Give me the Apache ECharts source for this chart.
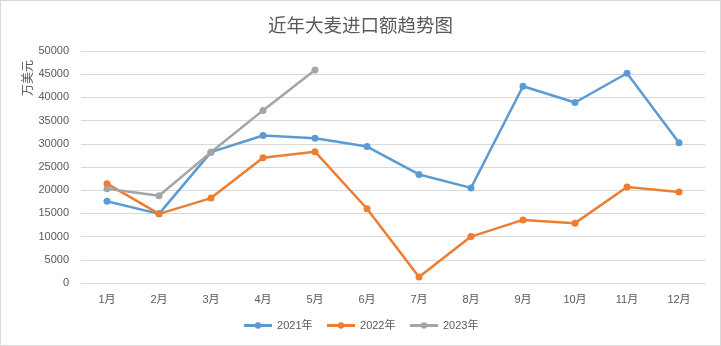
<!DOCTYPE html>
<html>
<head>
<meta charset="utf-8">
<script src="https://cdn.jsdelivr.net/npm/echarts@6/dist/echarts.min.js"></script>
<style>
  html, body { margin: 0; padding: 0; background: #fff; }
  #chart { width: 719px; height: 344px; border: 1px solid #D9D9D9; }
</style>
</head>
<body>
<div id="chart"></div>
<script>
// Monthly barley import value, unit: 10k USD
const months = ['1月', '2月', '3月', '4月', '5月', '6月', '7月', '8月', '9月', '10月', '11月', '12月'];
const values2021 = [17600, 14900, 28200, 31800, 31200, 29400, 23400, 20500, 42400, 38900, 45200, 30200];
const values2022 = [21400, 14900, 18300, 27000, 28300, 16000, 1300, 10000, 13600, 12900, 20700, 19600];
const values2023 = [20300, 18800, 28200, 37200, 45900];
const seriesNames = ['2021年', '2022年', '2023年'];
const colors = ['#5B9BD5', '#ED7D31', '#A5A5A5'];

const font = "'Liberation Sans', 'Noto Sans CJK SC', sans-serif";
const chart = echarts.init(document.getElementById('chart'));

function lineSeries(name, data, color) {
  return {
    name: name,
    type: 'line',
    data: data,
    symbol: 'circle',
    symbolSize: 7,
    lineStyle: { width: 2.5, color: color },
    itemStyle: { color: color },
    emphasis: { disabled: true },
    animation: false
  };
}

chart.setOption({
  animation: false,
  textStyle: { fontFamily: font },
  title: {
    text: '近年大麦进口额趋势图',
    left: 'center',
    top: 12,
    textStyle: { fontFamily: font, fontSize: 18.5, fontWeight: 'normal', color: '#595959' }
  },
  legend: {
    bottom: 9,
    left: 'center',
    itemWidth: 28,
    itemHeight: 8,
    itemGap: 13,
    itemStyle: { borderWidth: 0 },
    lineStyle: { width: 3 },
    textStyle: { fontFamily: font, fontSize: 11, color: '#595959' },
    data: seriesNames
  },
  grid: { left: 80, right: 15, top: 50, bottom: 62, containLabel: false },
  xAxis: {
    type: 'category',
    data: months,
    boundaryGap: true,
    axisLine: { show: false },
    axisTick: { show: false },
    axisLabel: { color: '#595959', fontSize: 11, fontFamily: font, margin: 11 }
  },
  yAxis: {
    type: 'value',
    min: 0,
    max: 50000,
    interval: 5000,
    axisLine: { show: false },
    axisTick: { show: false },
    axisLabel: {
      color: '#595959', fontSize: 11, fontFamily: font, margin: 12,
      formatter: function (v) { return String(v); }
    },
    splitLine: { lineStyle: { color: '#D9D9D9', width: 1 } }
  },
  graphic: [{
    type: 'text',
    x: 28,
    y: 77,
    rotation: Math.PI / 2,
    style: {
      text: '万美元',
      fontFamily: font,
      fontSize: 12,
      fill: '#595959',
      align: 'center',
      verticalAlign: 'middle'
    }
  }],
  series: [
    lineSeries(seriesNames[0], values2021, colors[0]),
    lineSeries(seriesNames[1], values2022, colors[1]),
    lineSeries(seriesNames[2], values2023, colors[2])
  ]
});
</script>
</body>
</html>
